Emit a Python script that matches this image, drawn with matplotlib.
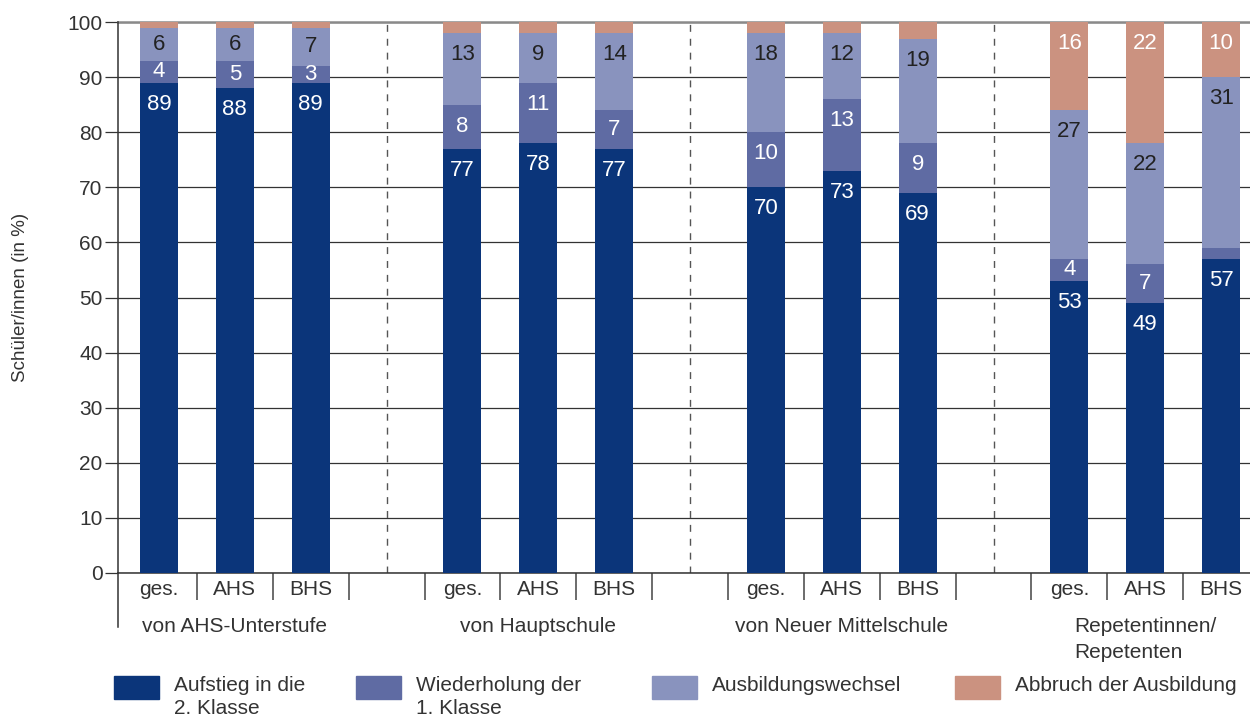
"""Stacked bars: Verbleib nach der 1. Klasse der höheren Schule."""

import matplotlib

matplotlib.use("Agg")
import matplotlib.pyplot as plt
import numpy as np
from matplotlib.patches import Rectangle
from matplotlib.transforms import blended_transform_factory

plt.rcParams["font.family"] = ["Liberation Sans", "DejaVu Sans"]

groups = ["von AHS-Unterstufe", "von Hauptschule", "von Neuer Mittelschule",
          "Repetentinnen/\nRepetenten"]
school_types = ["ges.", "AHS", "BHS"]

# one value per bar, in order group by group (ges., AHS, BHS)
aufstieg = [89, 88, 89, 77, 78, 77, 70, 73, 69, 53, 49, 57]
wiederholung = [4, 5, 3, 8, 11, 7, 10, 13, 9, 4, 7, 2]
wechsel = [6, 6, 7, 13, 9, 14, 18, 12, 19, 27, 22, 31]
abbruch = [1, 1, 1, 2, 2, 2, 2, 2, 3, 16, 22, 10]

series_labels = ["Aufstieg in die\n2. Klasse", "Wiederholung der\n1. Klasse",
                 "Ausbildungswechsel", "Abbruch der Ausbildung"]
colors = ["#0b357a", "#5f6ba3", "#8993be", "#cb9280"]
text_colors = ["white", "white", "#222222", "white"]
min_label = [1, 3, 1, 5]  # smaller segments stay unlabelled

TXT = "#333333"
FS = 15

fig = plt.figure(figsize=(12.5, 7.2), dpi=100)
ax = fig.add_axes([118 / 1250, 1 - 573 / 720, 1 - 118 / 1250, 551 / 720])

n_per = len(school_types)
x = np.array([g * (n_per + 1) + i for g in range(len(groups)) for i in range(n_per)])

bottom = np.zeros(len(x))
for vals, col, tcol, thr in zip([aufstieg, wiederholung, wechsel, abbruch],
                                colors, text_colors, min_label):
    vals = np.array(vals, dtype=float)
    ax.bar(x, vals, width=0.5, bottom=bottom, color=col, zorder=3)
    for xi, b, v in zip(x, bottom, vals):
        if v < thr:
            continue
        y = b + v - min(3.9, v / 2)
        ax.text(xi, y, f"{v:.0f}", ha="center", va="center",
                color=tcol, fontsize=16, zorder=4)
    bottom += vals

# dashed separators between groups
for g in range(1, len(groups)):
    ax.vlines(g * (n_per + 1) - 1, 0, 100, colors="#555555", lw=1,
              linestyles=(0, (5, 5)), zorder=2)

ax.set_xlim(-0.54, 14.38)
ax.set_ylim(0, 100)
ax.set_yticks(range(0, 101, 10))
ax.yaxis.grid(True, color="#333333", lw=0.9)
ax.set_axisbelow(True)
ax.axhline(100, color="#8a8a8a", lw=1.8, clip_on=False, zorder=1)
ax.tick_params(axis="y", length=9.5, width=0.9, color="#333333", pad=1.5,
               labelsize=FS, labelcolor=TXT)
ax.set_ylabel("Schüler/innen (in %)", fontsize=13.5, color=TXT, labelpad=28)

ax.set_xticks(x)
ax.set_xticklabels(school_types * len(groups))
ax.tick_params(axis="x", which="major", length=0, pad=5, labelsize=FS,
               labelcolor=TXT)
ax.set_xticks(np.arange(0.5, x.max(), 1), minor=True)
ax.tick_params(axis="x", which="minor", length=19.5, width=1.1, color="#444444")

for side in ["top", "right"]:
    ax.spines[side].set_visible(False)
for side in ["left", "bottom"]:
    ax.spines[side].set_color("#333333")
    ax.spines[side].set_linewidth(1.1)
ax.plot([0, 0], [0, -54 / 551], transform=ax.transAxes, color="#333333",
        lw=1.1, clip_on=False)

trans = blended_transform_factory(ax.transData, fig.transFigure)
for g, name in enumerate(groups):
    ax.text(g * (n_per + 1) + 1, 1 - 617 / 720, name, transform=trans,
            ha="center", va="top", multialignment="left", fontsize=FS,
            color=TXT, linespacing=1.45)

# legend
leg_x = [114, 356, 652, 955]
for lx, lab, col in zip(leg_x, series_labels, colors):
    fig.patches.append(Rectangle((lx / 1250, 1 - 699 / 720), 45 / 1250, 23 / 720,
                                 transform=fig.transFigure, color=col))
    fig.text((lx + 60) / 1250, 1 - 676 / 720, lab, ha="left", va="top",
             fontsize=FS, color=TXT, linespacing=1.3)

fig.savefig("out.png", dpi=100)
